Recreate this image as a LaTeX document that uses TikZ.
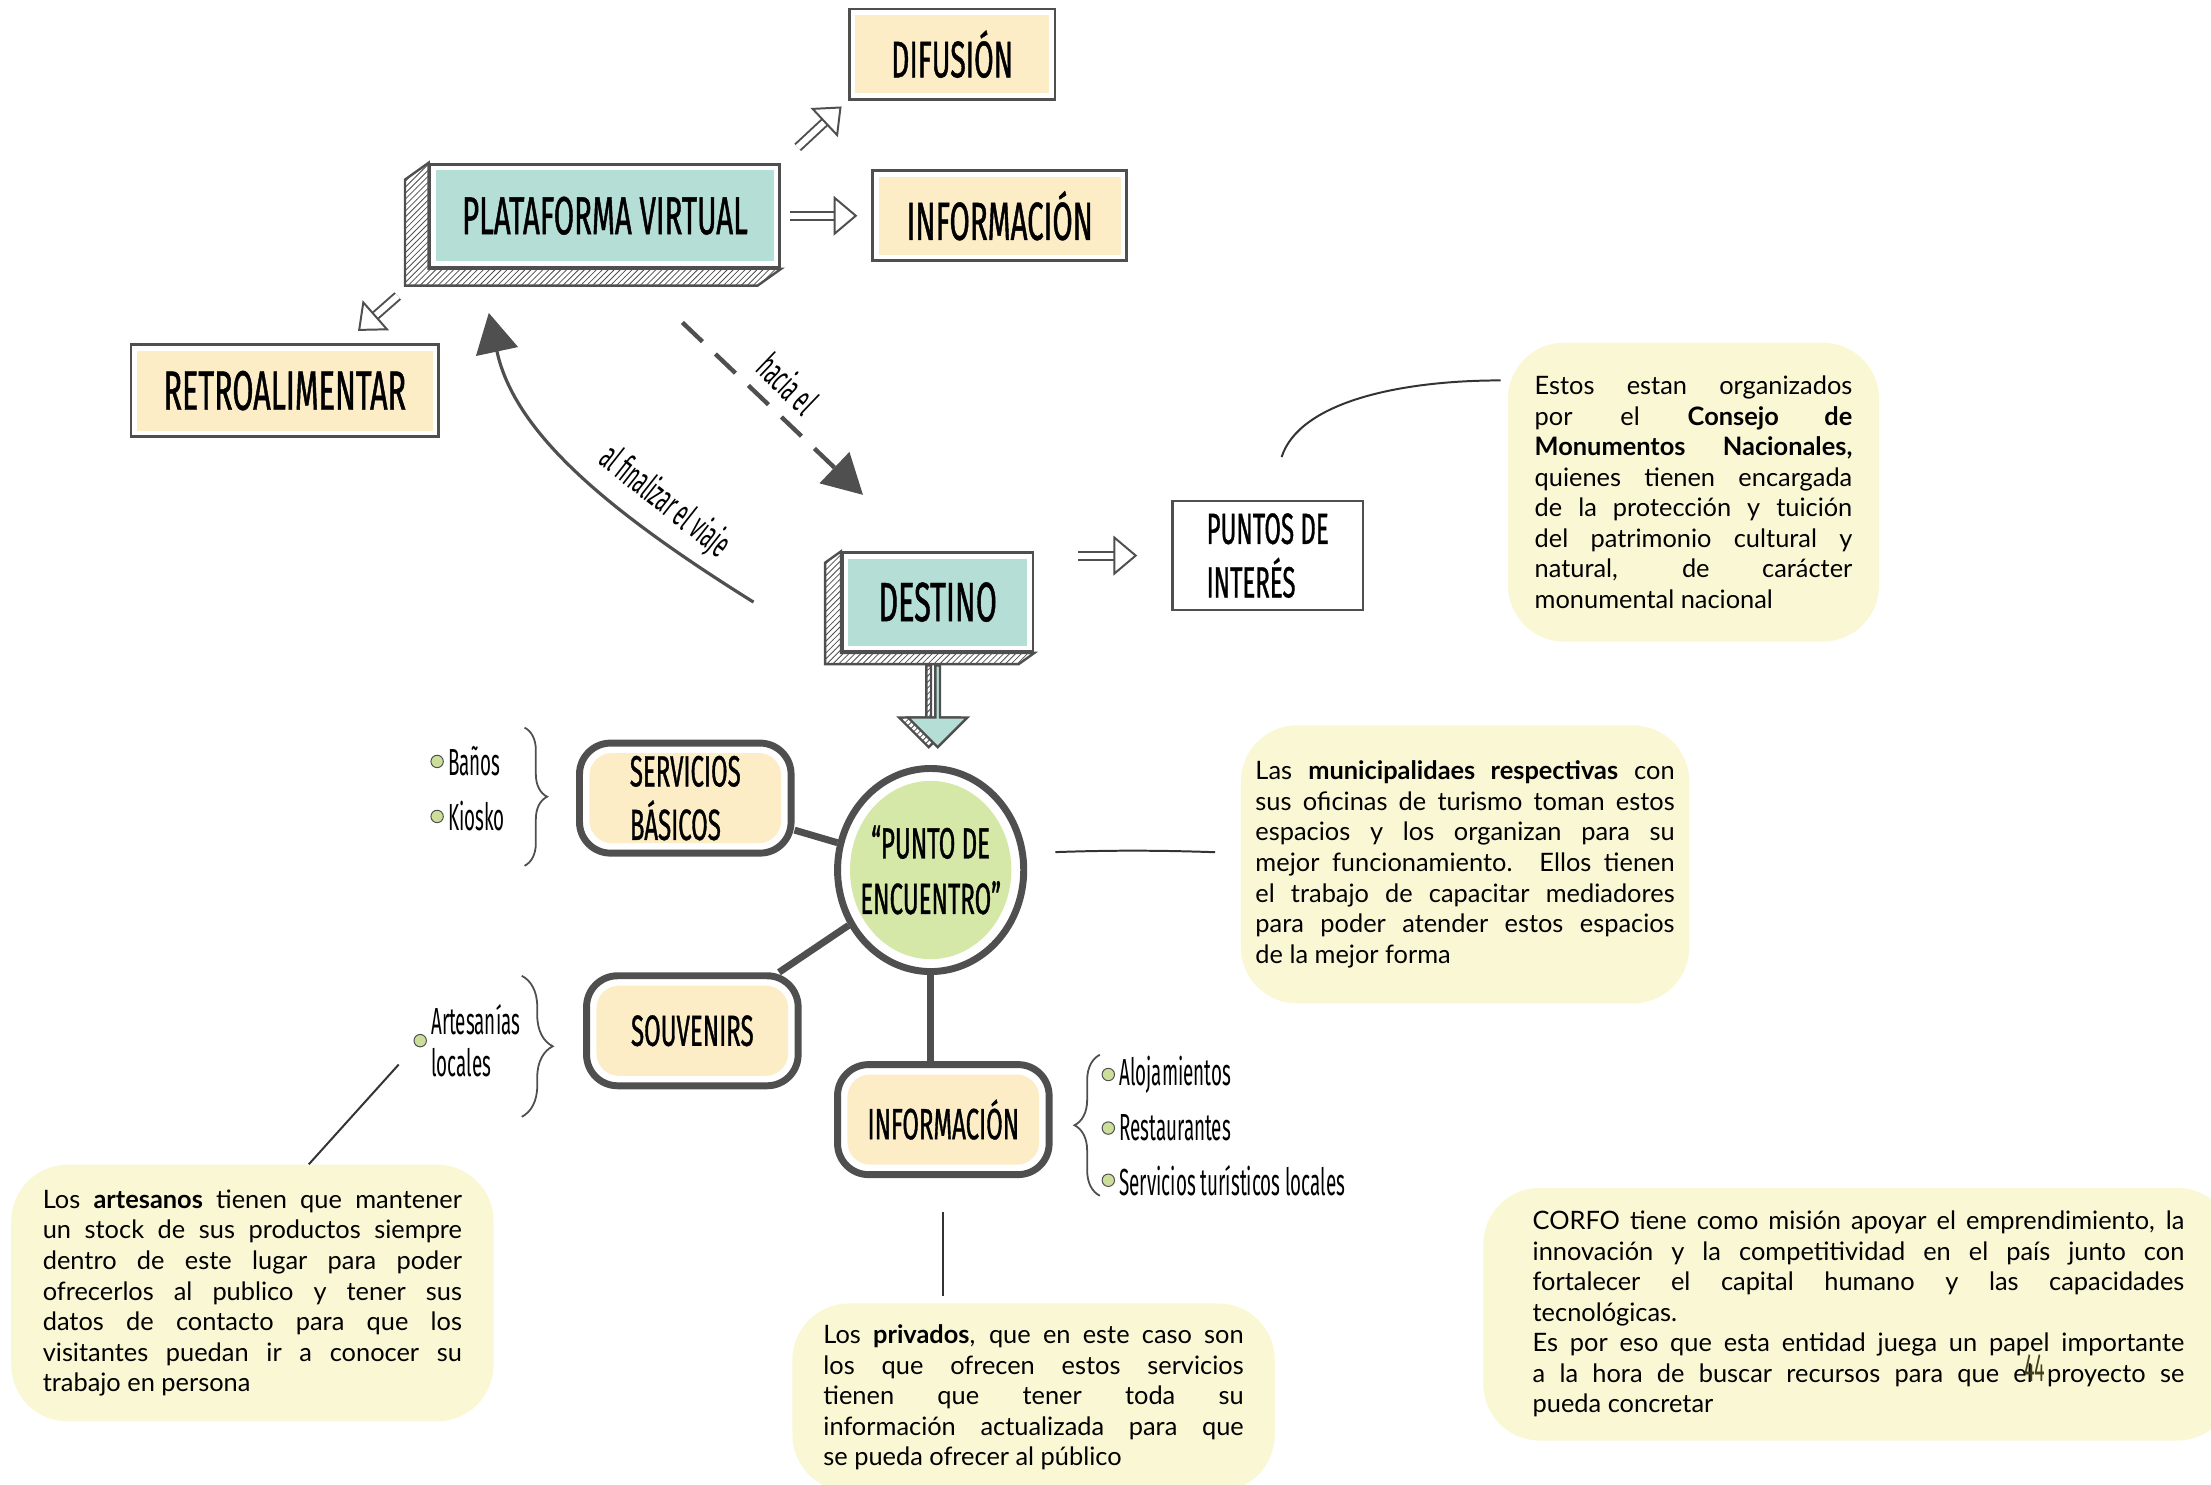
\documentclass[tikz,border=0pt]{standalone}
\usepackage{fontspec}
\setmainfont{Lato}
\newfontfamily\headfont[FakeStretch=0.55,FakeBold=0.8]{Fira Sans}
\newfontfamily\tagfont[FakeStretch=0.5]{Fira Sans}
\newfontfamily\notefont{Lato}
\usetikzlibrary{positioning,calc,shapes,decorations.pathreplacing}
\usetikzlibrary{backgrounds}
\usetikzlibrary{arrows.meta}
\usetikzlibrary{patterns}
\definecolor{linegray}{rgb}{0.31,0.31,0.31}
\definecolor{teal3d}{rgb}{0.71,0.87,0.84}
\definecolor{cream}{rgb}{0.99,0.93,0.78}
\definecolor{hubgreen}{rgb}{0.84,0.91,0.66}
\definecolor{notefill}{rgb}{0.98,0.97,0.83}
\definecolor{dotgreen}{rgb}{0.80,0.87,0.60}
\definecolor{pagecol}{rgb}{0.25,0.25,0.10}

\begin{document}
\begin{tikzpicture}[
  x = 0.025cm,
  y = -0.025cm,
  headbox/.style = {
    draw = linegray,
    rectangle,
    line width = 1.4pt,
    fill = white,
    font = \headfont\fontsize{26}{30}\selectfont,
    path picture = {
      \fill[cream] ([shift={(3pt,3pt)}]path picture bounding box.south west)
        rectangle ([shift={(-3pt,-3pt)}]path picture bounding box.north east);
    },
  },
  face3d/.style = {
    headbox,
    font = \headfont\fontsize{27}{30}\selectfont,
    path picture = {
      \fill[teal3d] ([shift={(3pt,3pt)}]path picture bounding box.south west)
        rectangle ([shift={(-3pt,-3pt)}]path picture bounding box.north east);
    },
  },
  side3d/.style = {
    draw = linegray,
    line width = 1.2pt,
    pattern = north east lines,
    pattern color = linegray,
  },
  plainbox/.style = {
    draw = linegray,
    rectangle,
    line width = 1.2pt,
    fill = white,
    align = left,
    font = \headfont\fontsize{22}{27}\selectfont,
  },
  roundbox/.style = {
    draw = linegray,
    rectangle,
    rounded corners = 0.55cm,
    line width = 3.5pt,
    fill = white,
    align = left,
    minimum width = 3.75cm,
    minimum height = 1.95cm,
    font = \headfont\fontsize{22}{27}\selectfont,
    path picture = {
      \fill[cream, rounded corners=0.4cm] ([shift={(5pt,5pt)}]path picture bounding box.south west)
        rectangle ([shift={(-5pt,-5pt)}]path picture bounding box.north east);
    },
  },
  hubcircle/.style = {
    draw = linegray,
    ellipse,
    line width = 3.5pt,
    fill = white,
    align = center,
    inner xsep = -0.3cm,
    minimum width = 3.3cm,
    minimum height = 3.6cm,
    font = \headfont\fontsize{22}{28}\selectfont,
    path picture = {
      \fill[hubgreen] (path picture bounding box.center) ellipse [x radius=1.43cm, y radius=1.58cm];
    },
  },
  notebox/.style = {
    fill = notefill,
    rectangle,
    rounded corners = 1cm,
    align = justify,
    font = \notefont\fontsize{12.8}{15.4}\selectfont,
  },
  hub/.style = {
    draw = linegray,
    line width = 3.5pt,
  },
  link/.style = {
    draw = black!80,
    line width = 1pt,
  },
  hollow/.style = {
    draw = linegray,
    line width = 1pt,
    double = white,
    double distance = 3pt,
    -{Triangle[open, length=12pt, width=20pt]},
  },
  tripline/.style = {
    draw = linegray,
    line width = 1.6pt,
    -{Triangle[length=0.7cm, width=0.75cm]},
  },
  dasharrow/.style = {
    tripline,
    line width = 2.2pt,
    dash pattern = on 14pt off 9pt,
  },
  curly/.style = {
    draw = linegray,
    line width = 0.9pt,
    decorate,
  },
  dot/.style = {
    draw = linegray,
    circle,
    fill = dotgreen,
    line width = 0.5pt,
    inner sep = 0pt,
    minimum size = 0.22cm,
  },
  tag/.style = {
    inner sep = 1pt,
    font = \tagfont\fontsize{19}{21}\selectfont,
  },
]

  \useasboundingbox (0,0) rectangle (1568,1053);
  \clip (0,0) rectangle (1568,1053);

  % virtual platform
  \node[face3d, minimum width=6.2cm, minimum height=1.83cm] (pv) at (429,153) {PLATAFORMA VIRTUAL};
  \node[headbox, minimum width=4.5cm, minimum height=1.6cm, font=\headfont\fontsize{27}{30}\selectfont] (info1) [right=1.6cm of pv] {INFORMACIÓN};
  \node[headbox, minimum width=3.65cm, minimum height=1.6cm, anchor=south west] (difusion) [above right=1.1cm and 1.18cm of pv.north east] {DIFUSIÓN};
  \node[headbox, minimum width=5.45cm, minimum height=1.63cm, font=\headfont\fontsize{28}{30}\selectfont] (retro) at (202,277) {RETROALIMENTAR};

  % destination
  \node[face3d, minimum width=3.38cm, minimum height=1.75cm, font=\headfont\fontsize{28}{30}\selectfont] (destino) at (665,427) {DESTINO};
  \node[plainbox, minimum width=3.38cm, minimum height=1.93cm] (puntos) at (899,394) {PUNTOS DE\\INTERÉS};

  \begin{scope}[on background layer]
    \draw[side3d] (pv.north west) -- ++(-0.42cm,-0.3cm)
      -- ([shift={(-0.42cm,-0.3cm)}]pv.south west)
      -- ([shift={(-0.42cm,-0.3cm)}]pv.south east)
      -- (pv.south east) -- (pv.south west) -- cycle;
    \draw[side3d] (destino.north west) -- ++(-0.28cm,-0.2cm)
      -- ([shift={(-0.28cm,-0.2cm)}]destino.south west)
      -- ([shift={(-0.28cm,-0.2cm)}]destino.south east)
      -- (destino.south east) -- (destino.south west) -- cycle;
  \end{scope}

  \node[single arrow, rotate=-90, anchor=west, side3d, minimum height=1.45cm, minimum width=1.05cm,
    single arrow head extend=0.25cm, inner sep=0pt] (darrowside) at ([shift={(-0.16cm,-0.2cm)}]destino.south) {};
  \node[single arrow, rotate=-90, anchor=west, draw=linegray, line width=1.2pt, fill=teal3d,
    minimum height=1.45cm, minimum width=1.05cm, single arrow head extend=0.25cm, inner sep=0pt] (darrow) at ([yshift=-0.2cm]destino.south) {};

  % meeting point
  \node[hubcircle] (pe) at (660,617) {“PUNTO DE\\ENCUENTRO”};
  \node[roundbox] (servicios) at (486,566) {SERVICIOS\\BÁSICOS};
  \node[roundbox] (souvenirs) at (491,731) {SOUVENIRS};
  \node[roundbox] (info2) at (669,794) {INFORMACIÓN};

  \draw[hub] (servicios) -- (pe);
  \draw[hub] (souvenirs) -- (pe);
  \draw[hub] (pe) -- (pe |- info2.north);

  % notes
  \node[notebox, text width=5.63cm, minimum width=6.58cm, minimum height=5.3cm] (c1) at (1201,349) {Estos estan organizados\linebreak por el \textbf{Consejo de}\linebreak \textbf{Monumentos Nacionales,}\linebreak quienes tienen encargada\linebreak de la protección y tuición\linebreak del patrimonio cultural y\linebreak natural, de carácter\linebreak monumental nacional};
  \node[notebox, text width=7.43cm, minimum width=7.95cm, minimum height=4.93cm] (c2) at (1039,613) {Las \textbf{municipalidaes respectivas} con\linebreak sus oficinas de turismo toman estos\linebreak espacios y los organizan para su\linebreak mejor funcionamiento. Ellos tienen\linebreak el trabajo de capacitar mediadores\linebreak para poder atender estos espacios\linebreak de la mejor forma};
  \node[notebox, text width=7.43cm, minimum width=8.55cm, minimum height=4.55cm] (c3) at (179,917) {Los \textbf{artesanos} tienen que mantener\linebreak un stock de sus productos siempre\linebreak dentro de este lugar para poder\linebreak ofrecerlos al publico y tener sus\linebreak datos de contacto para que los\linebreak visitantes puedan ir a conocer su\linebreak trabajo en persona};
  \node[notebox, text width=7.45cm, minimum width=8.55cm, minimum height=3.33cm] (c4) at (733,991) {Los \textbf{privados}, que en este caso son\linebreak los que ofrecen estos servicios\linebreak tienen que tener toda su\linebreak información actualizada para que\linebreak se pueda ofrecer al público};
  \node[notebox, text width=11.55cm, minimum width=13.3cm, minimum height=4.48cm] (c5) at (1318,932) {CORFO tiene como misión apoyar el emprendimiento, la\linebreak innovación y la competitividad en el país junto con\linebreak fortalecer el capital humano y las capacidades\linebreak tecnológicas.\par Es por eso que esta entidad juega un papel importante\linebreak a la hora de buscar recursos para que el proyecto se\linebreak pueda concretar};
  \node[tag, font=\tagfont\fontsize{20}{21}\selectfont, text=pagecol] (pagenum) at (1443,970) {44};

  % bullet lists
  \node[dot] (banosdot) at (310,540) {};
  \node[tag, right=1pt of banosdot] (banos) {Baños};
  \node[dot] (kioskodot) at (310,579) {};
  \node[tag, right=1pt of kioskodot] (kiosko) {Kiosko};
  \draw[curly, decoration={brace, amplitude=0.4cm}] (372,516) -- (372,614);

  \node[dot] (artdot) at (298,738) {};
  \node[tag, align=left, right=1pt of artdot] (artesanias) {Artesanías\\locales};
  \draw[curly, decoration={brace, amplitude=0.55cm}] (370,692) -- (370,792);

  \node[dot] (alojdot) at (786,762) {};
  \node[tag, right=1pt of alojdot] (aloj) {Alojamientos};
  \node[dot] (restdot) at (786,800) {};
  \node[tag, right=1pt of restdot] (rest) {Restaurantes};
  \node[dot] (servdot) at (786,837) {};
  \node[tag, right=1pt of servdot] (servtur) {Servicios turísticos locales};
  \draw[curly, decoration={brace, amplitude=0.45cm}] (780,848) -- (780,748);

  % arrows
  \draw[hollow, shorten <=0.4cm, shorten >=0.15cm] (pv.north east) -- (difusion.south west);
  \draw[hollow, shorten <=0.15cm, shorten >=0.25cm] (pv.east) -- (info1.west);
  \draw[hollow, shorten <=0.73cm, shorten >=0.33cm] (pv.south west) -- ([xshift=-1.7cm]retro.north east);
  \draw[hollow, shorten <=0.78cm, shorten >=0.6cm] (destino.east |- puntos.west) -- (puntos.west);

  \draw[dasharrow, shorten <=1.38cm, shorten >=1.45cm] ([xshift=0.375cm]pv.south)
    -- node[pos=0.48, sloped, above=5pt, tag] (hacia) {hacia el} ([xshift=-0.275cm]destino.north);

  \coordinate (tripstart) at ([xshift=-1.55cm]destino.west);
  \draw[tripline, shorten >=0.8cm] (tripstart) to[out=148, in=-78]
    node[pos=0.28, sloped, above=5pt, tag] (finviaje) {al finalizar el viaje} ([xshift=0.9cm]pv.south west);

  % links to notes
  \draw[link, shorten <=0.8cm] (puntos.north) to[out=72, in=180] ([xshift=-0.12cm, yshift=1.98cm]c1.west);
  \draw[link, shorten <=0.5cm, shorten >=0.45cm] ([yshift=0.3cm]pe.east) to[out=2, in=178] ([yshift=0.2cm]c2.west);
  \draw[link, shorten <=0.45cm] (artdot) -- ([xshift=1cm]c3.north);
  \draw[link, shorten <=0.6cm, shorten >=0.12cm] (info2.south) -- (info2.south |- c4.north);

\end{tikzpicture}
\end{document}
